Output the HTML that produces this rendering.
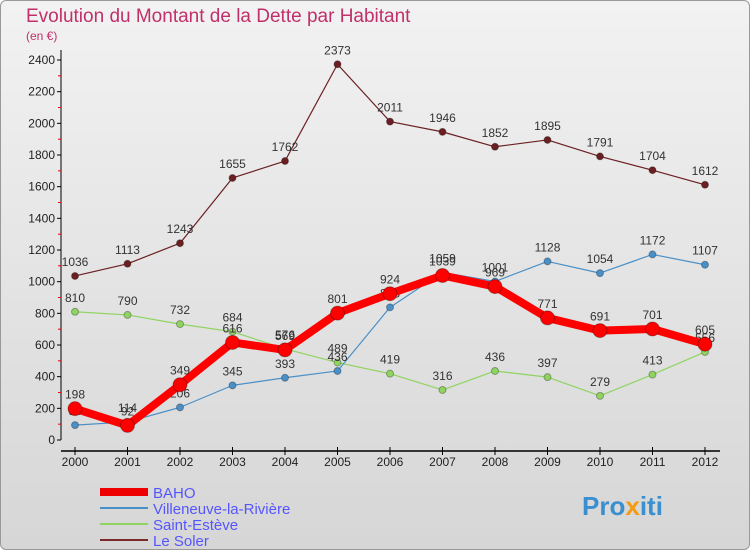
<!DOCTYPE html>
<html><head><meta charset="utf-8"><style>
body{margin:0;width:750px;height:550px;overflow:hidden;font-family:"Liberation Sans",sans-serif}
#bg{position:absolute;left:0;top:0;width:748px;height:548px;border:1px solid #999;border-radius:6px;background:linear-gradient(#f2f2f2,#d6d6d6)}
</style></head><body>
<div id="bg"></div>
<svg id="c" width="750" height="550" style="position:absolute;left:0;top:0">
<text x="26" y="22" font-size="19" fill="#c0306a">Evolution du Montant de la Dette par Habitant</text>
<text x="26" y="40" font-size="12" fill="#c0306a">(en €)</text>
<g id="axes"></g><g id="series"></g>
<g>
<line x1="100" y1="492" x2="148" y2="492" stroke="#e00" stroke-width="8"/>
<text x="153" y="498" font-size="15" fill="#55f">BAHO</text>
<line x1="100" y1="508" x2="148" y2="508" stroke="#4a90c8" stroke-width="2"/>
<text x="153" y="514" font-size="15" fill="#55f">Villeneuve-la-Rivière</text>
<line x1="100" y1="524" x2="148" y2="524" stroke="#8fd460" stroke-width="2"/>
<text x="153" y="530" font-size="15" fill="#55f">Saint-Estève</text>
<line x1="100" y1="540" x2="148" y2="540" stroke="#7a2a2a" stroke-width="2"/>
<text x="153" y="546" font-size="15" fill="#55f">Le Soler</text>
</g>
<text x="582" y="515" font-size="26" font-weight="bold" fill="#3a8fd0">Pro<tspan fill="#f39c12">x</tspan>iti</text>
</svg>
<script>
const years=["2000","2001","2002","2003","2004","2005","2006","2007","2008","2009","2010","2011","2012"];
const yTicks=[0,200,400,600,800,1000,1200,1400,1600,1800,2000,2200,2400];
const baho=[198,92,349,616,569,801,924,1039,969,771,691,701,605];
const villeneuve=[94,114,206,345,393,436,838,1059,1001,1128,1054,1172,1107];
const saintEsteve=[810,790,732,684,576,489,419,316,436,397,279,413,556];
const leSoler=[1036,1113,1243,1655,1762,2373,2011,1946,1852,1895,1791,1704,1612];
const NS="http://www.w3.org/2000/svg";
const X=i=>75+i*52.5, Y=v=>440-v*380/2400;
function mk(t,a,p){const e=document.createElementNS(NS,t);for(const k in a)e.setAttribute(k,a[k]);p.appendChild(e);return e;}
const ax=document.getElementById('axes');
mk('line',{x1:61,y1:50,x2:61,y2:440,stroke:'#000'},ax);
mk('line',{x1:61,y1:451,x2:720,y2:451,stroke:'#000','stroke-width':1.5},ax);
yTicks.forEach(v=>{const t=mk('text',{x:55,y:Y(v)+4,'font-size':12,fill:'#222','text-anchor':'end'},ax);t.textContent=v;

mk('line',{x1:57,y1:Y(v),x2:61,y2:Y(v),stroke:'#000'},ax);
if(v<2400)mk('line',{x1:58,y1:Y(v+100),x2:61,y2:Y(v+100),stroke:'#e00'},ax);});
years.forEach((y,i)=>{mk('line',{x1:X(i),y1:447,x2:X(i),y2:455,stroke:'#000'},ax);
const t=mk('text',{x:X(i),y:466,'font-size':12,fill:'#222','text-anchor':'middle'},ax);t.textContent=y;
});
const sg=document.getElementById('series');
function draw(d,col,w,r,name){const g=mk('g',{},sg);
mk('polyline',{points:d.map((v,i)=>X(i)+','+Y(v)).join(' '),fill:'none',stroke:col,'stroke-width':w,'stroke-linejoin':'round'},g);
d.forEach((v,i)=>{const c=mk('circle',{cx:X(i),cy:Y(v),r:r,fill:col,stroke:'rgba(0,0,0,0.3)'},g);

const t=mk('text',{x:X(i),y:Y(v)-10,'font-size':12,fill:'#333','text-anchor':'middle'},g);t.textContent=v;
});}
draw(leSoler,'#6b1f22',1.2,3.5,'series-le-soler');
draw(saintEsteve,'#8fd460',1.2,3.5,'series-saint-esteve');
draw(villeneuve,'#4a90c8',1.2,3.5,'series-villeneuve');
draw(baho,'#f00',8,7,'series-baho');
</script>
</body></html>
